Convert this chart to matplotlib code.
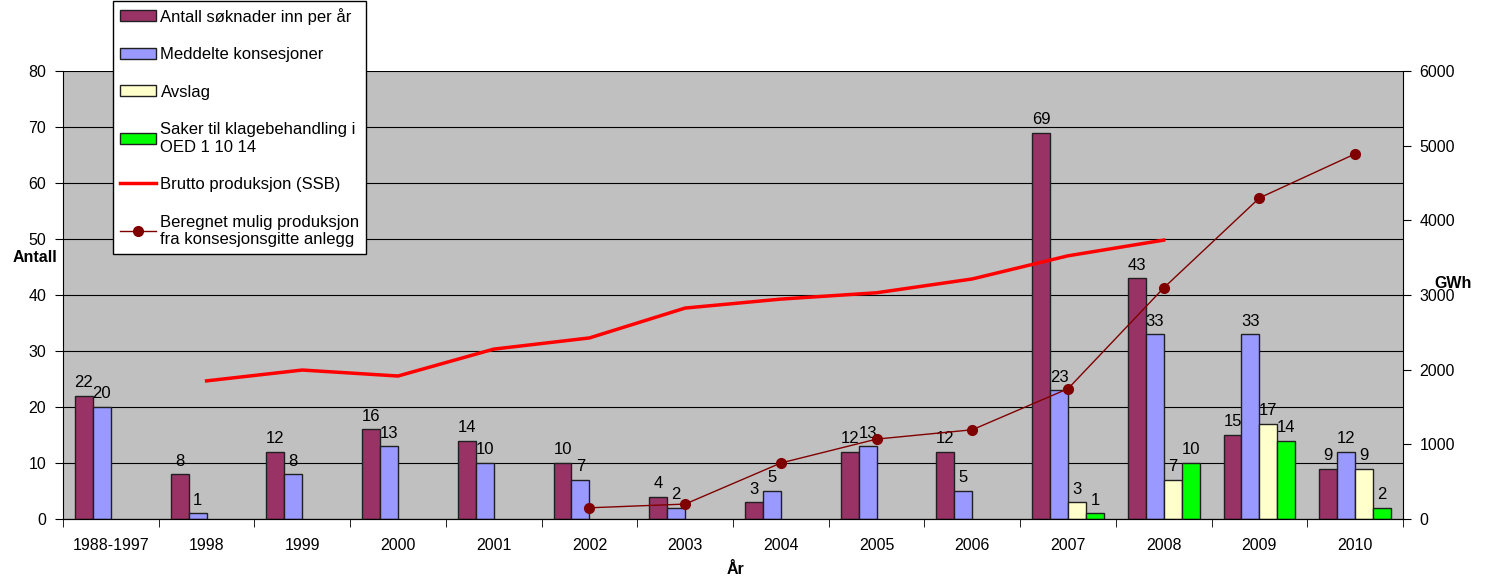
import numpy as np
import matplotlib.pyplot as plt
from matplotlib.ticker import FixedLocator, NullFormatter

plt.rcParams['font.family'] = ['Liberation Sans', 'DejaVu Sans']
plt.rcParams['font.size'] = 11.5

years = ["1988-1997", "1998", "1999", "2000", "2001", "2002", "2003",
         "2004", "2005", "2006", "2007", "2008", "2009", "2010"]
soknader = [22, 8, 12, 16, 14, 10, 4, 3, 12, 12, 69, 43, 15, 9]
meddelte = [20, 1, 8, 13, 10, 7, 2, 5, 13, 5, 23, 33, 33, 12]
avslag = [None]*10 + [3, 7, 17, 9]
klage = [None]*10 + [1, 10, 14, 2]
# GWh
brutto = [None, 1850, 1995, 1915, 2275, 2425, 2825, 2945, 3030, 3215, 3525, 3735, None, None]
beregnet = [None]*5 + [150, 200, 750, 1070, 1195, 1745, 3095, 4300, 4890]

series = [
    (soknader, "#993366", "Antall søknader inn per år"),
    (meddelte, "#9999FF", "Meddelte konsesjoner"),
    (avslag, "#FFFFCC", "Avslag"),
    (klage, "#00FF00", "Saker til klagebehandling i\nOED 1 10 14"),
]

fig = plt.figure(figsize=(14.91, 5.79), dpi=100)
ax = fig.add_axes([63/1491, 1-519/579, (1403-63)/1491, (519-71)/579])
ax.set_facecolor("#C0C0C0")

x = np.arange(len(years))
w = 0.1875
handles = []
for i, (vals, col, lab) in enumerate(series):
    v = np.array([np.nan if a is None else a for a in vals], dtype=float)
    pos = x + (i - 1.5)*w
    b = ax.bar(pos, v, w, color=col, edgecolor="#202020", lw=1, label=lab, zorder=2)
    handles.append(b)
    for px, pv in zip(pos, v):
        if not np.isnan(pv):
            ax.annotate(f"{int(pv)}", (px, pv), xytext=(0, 4), textcoords="offset points",
                        ha="center", va="bottom", fontsize=12, zorder=3)

ax.set_xlim(-0.5, len(years)-0.5)
ax.set_ylim(0, 80)
ax.set_yticks(range(0, 81, 10))
ax.grid(axis="y", color="black", lw=0.8, zorder=0)
ax.set_axisbelow(True)
ax.set_xticks(x)
ax.set_xticklabels(years)
ax.xaxis.set_minor_locator(FixedLocator(np.arange(-0.5, len(years), 1)))
ax.xaxis.set_minor_formatter(NullFormatter())
ax.tick_params(axis="x", which="major", length=0, pad=14)
ax.tick_params(axis="x", which="minor", length=6, direction="out")
ax.tick_params(axis="y", length=6, direction="out", pad=6)
for s in ["top", "right"]:
    ax.spines[s].set_visible(False)

ax2 = ax.twinx()
ax2.set_ylim(0, 6000)
ax2.set_yticks(range(0, 6001, 1000))
ax2.tick_params(axis="y", length=6, direction="out", pad=6)
ax2.spines["top"].set_visible(False)
ax2.spines["left"].set_visible(False)

b1 = np.array([np.nan if a is None else a for a in brutto], dtype=float)
b2 = np.array([np.nan if a is None else a for a in beregnet], dtype=float)
l1, = ax2.plot(x, b1, color="#FF0000", lw=2.5, label="Brutto produksjon (SSB)")
l2, = ax2.plot(x, b2, color="#800000", lw=1, marker="o", ms=7,
               label="Beregnet mulig produksjon\nfra konsesjonsgitte anlegg")

leg = fig.legend(handles + [l1, l2], [h.get_label() for h in handles + [l1, l2]],
                 loc="upper left", bbox_to_anchor=(113/1491, 0.998),
                 frameon=True, fancybox=False, edgecolor="black", framealpha=1,
                 handlelength=2.2, handleheight=0.65, handletextpad=0.25,
                 labelspacing=1.35, borderpad=0.4, borderaxespad=0, fontsize=12)
leg.get_frame().set_linewidth(1)
leg.set_zorder(10)

fig.text(35/1491, 1-258/579, "Antall", ha="center", va="center", fontweight="bold", fontsize=11.5)
fig.text(1453/1491, 1-283/579, "GWh", ha="center", va="center", fontweight="bold", fontsize=11.5)
fig.text(736/1491, 1-570/579, "År", ha="center", va="center", fontweight="bold", fontsize=11.5)

fig.savefig("out.png", dpi=100)
